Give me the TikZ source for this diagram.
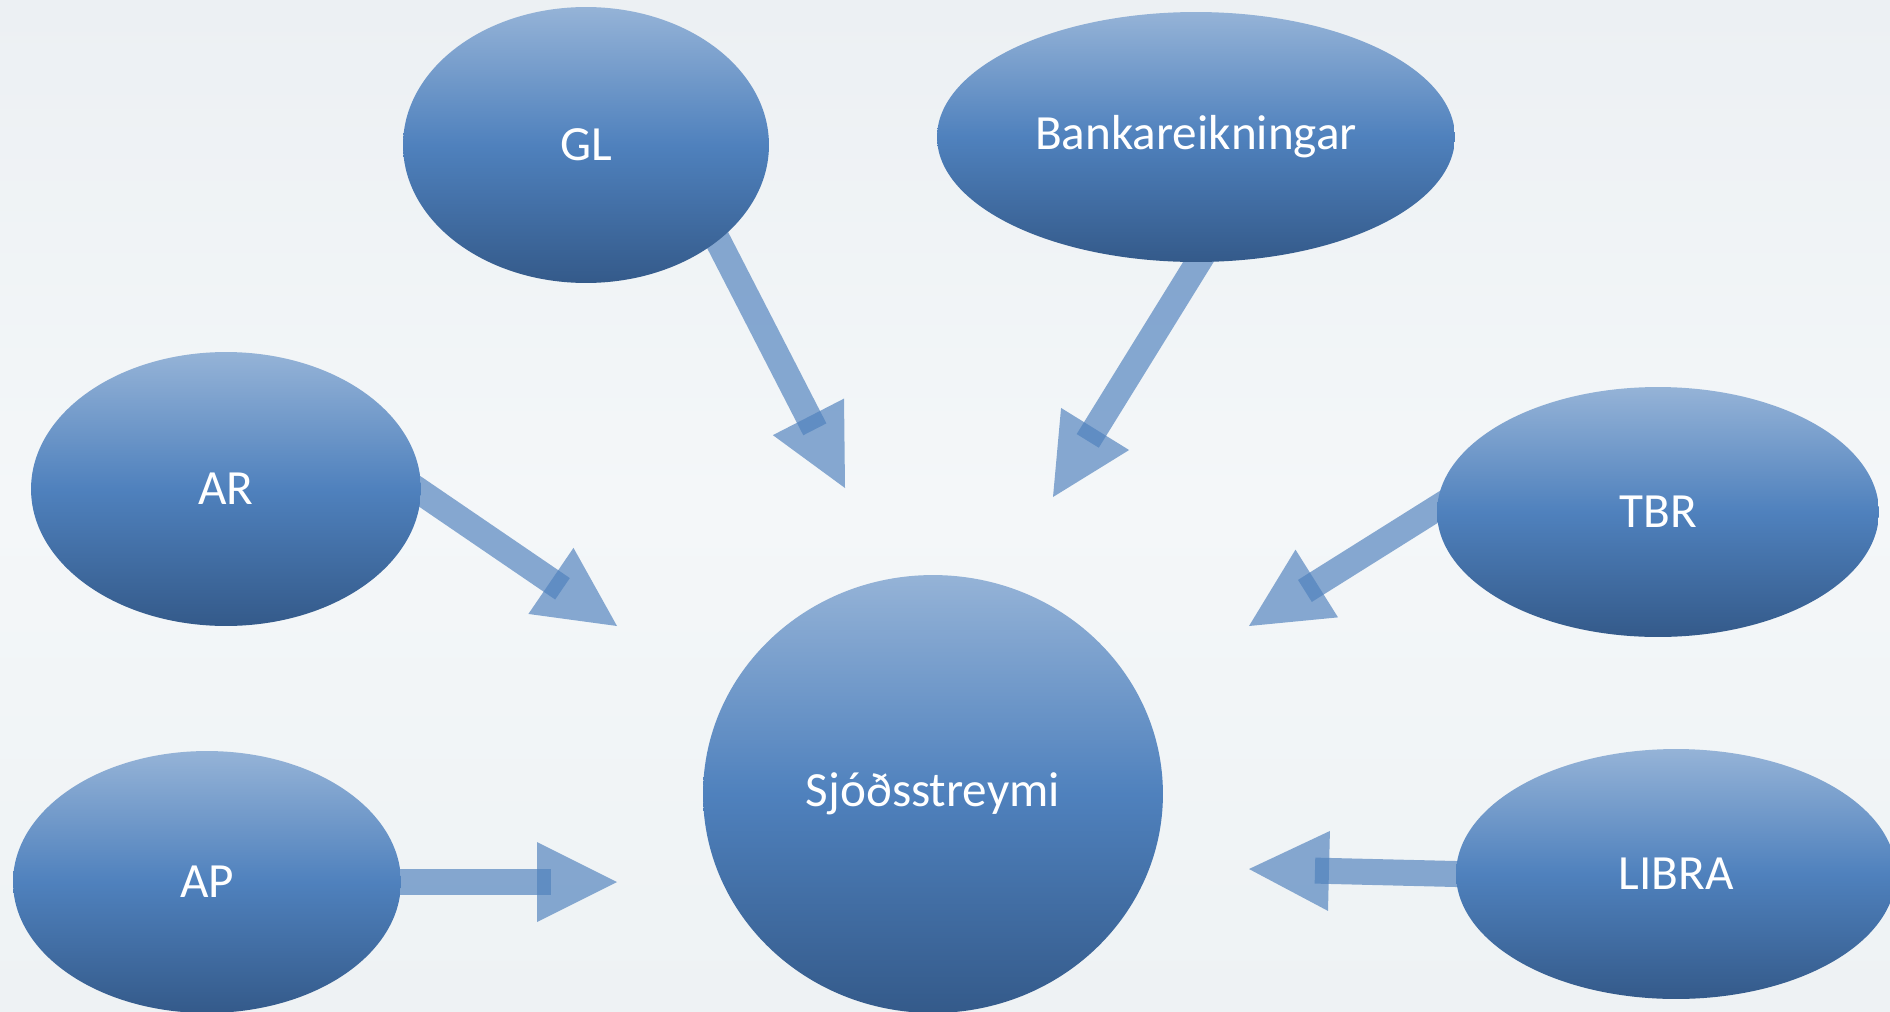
\documentclass[tikz,border=0pt]{standalone}
\usepackage{fontspec}
\setmainfont{Carlito}
\usepackage{xcolor}
\usepackage{tikz}
\usetikzlibrary{shapes.geometric}
\usetikzlibrary{calc}

\definecolor{elTop}{HTML}{95B3D7}
\definecolor{elMid}{HTML}{4F81BD}
\definecolor{elBot}{HTML}{345A8A}
\definecolor{flowBlue}{HTML}{4F81BD}
\definecolor{bgTop}{HTML}{ECF0F3}
\definecolor{bgMid}{HTML}{F4F7F9}
\definecolor{bgBot}{HTML}{EEF2F4}

\pgfdeclarelayer{back}
\pgfdeclarelayer{flow}
\pgfsetlayers{back,flow,main}

\begin{document}
\begin{tikzpicture}[
	x=0.02cm, y=-0.02cm,
	font=\fontsize{28}{34}\selectfont
]
\tikzset{
    srcnode/.style = {ellipse, inner sep=0pt, text=white, top color=elTop, bottom color=elBot, middle color=elMid},
		flowshaft/.style = {draw=flowBlue, opacity=0.67, line width=0.52cm, shorten <=-0.3cm},
		flowhead/.style = {fill=flowBlue, opacity=0.67}
}
\begin{pgfonlayer}{back}
\fill[top color=bgTop, bottom color=bgBot, middle color=bgMid] (0,0) rectangle (1890,1011);
\end{pgfonlayer}
\useasboundingbox (0,0) rectangle (1890,1011);

\node [srcnode, minimum width=7.32cm, minimum height=5.52cm] (GL) at (586,145) {GL};
\node [srcnode, minimum width=10.36cm, minimum height=5cm] (Bank) at (1196,137) {Bankareikningar};
\node [srcnode, minimum width=7.8cm, minimum height=5.48cm] (AR) at (226,489) {AR};
\node [srcnode, minimum width=8.84cm, minimum height=5cm] (TBR) at (1658,512) {TBR};
\node [srcnode, minimum width=7.76cm, minimum height=5.24cm] (AP) at (207,882) {AP};
\node [srcnode, minimum width=9.2cm, minimum height=8.76cm] (Sjod) at (933,794) {Sjóðsstreymi};
\node [srcnode, minimum width=8.8cm, minimum height=5cm] (LIBRA) at (1676,874) {LIBRA};

% arrow tips
\coordinate (tGL) at (845,488);
\coordinate (tBank) at (1053,497);
\coordinate (tAR) at (617,626);
\coordinate (tTBR) at (1249,626);
\coordinate (tAP) at (617,882);
\coordinate (tLIBRA) at (1249,869);

\begin{pgfonlayer}{flow}
\foreach \src/\tip in {GL.-36.5/tGL, Bank.-89.5/tBank, AR.-1/tAR, TBR.179/tTBR, AP.east/tAP, LIBRA.west/tLIBRA} {
	\draw[flowshaft] (\src) -- ($(\tip)!1.32cm!(\src)$);
	\fill[flowhead] (\tip) -- ($(\tip)!1.6cm!(\src)!0.8cm!90:(\tip)$)
		-- ($(\tip)!1.6cm!(\src)!0.8cm!-90:(\tip)$) -- cycle;
}
\end{pgfonlayer}
\end{tikzpicture}
\end{document}
